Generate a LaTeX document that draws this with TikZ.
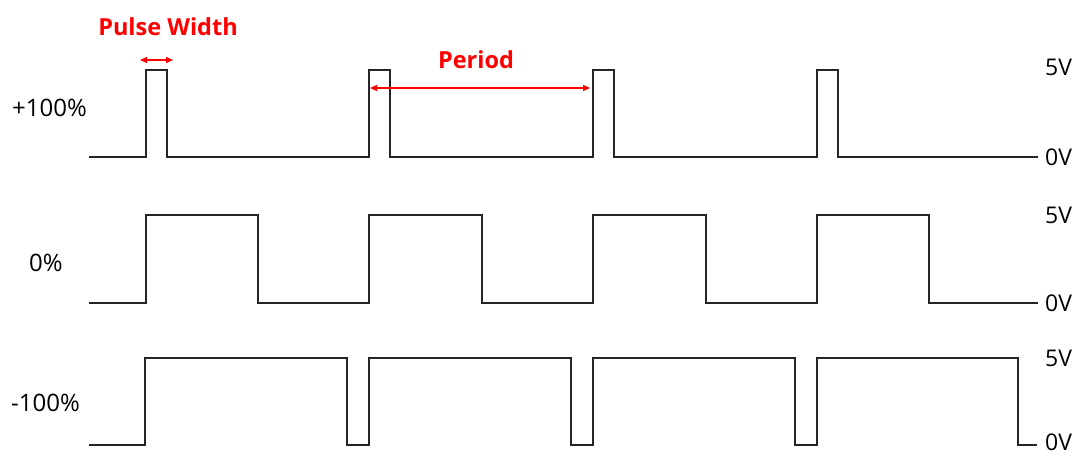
\documentclass[tikz,border=0pt]{standalone}
\usepackage{fontspec}
\setmainfont{Open Sans}
\usetikzlibrary{arrows.meta}

\tikzset{
    wave/.style={line width=2.4pt, black!85, line join=miter},
    level/.style={anchor=west, font=\fontsize{23}{26}\selectfont, inner sep=0pt},
    duty/.style={anchor=west, font=\fontsize{24}{27}\selectfont, inner sep=0pt},
    marker/.style={red, line width=1.3pt, {Triangle[length=7pt,width=6pt]}-{Triangle[length=7pt,width=6pt]}},
    redlabel/.style={red, font=\bfseries\fontsize{23.5}{27}\selectfont, inner sep=0pt}
}

\begin{document}
\begin{tikzpicture}[x=1pt, y=-1pt]
    \useasboundingbox (0,0) rectangle (1084,457);

    % Duty labels on the left
    \node[duty] (dplus) at (12,108) {+100\%};
    \node[duty] (dzero) at (29,263) {0\%};
    \node[duty] (dminus) at (11,403) {-100\%};

    % Voltage levels on the right
    \node[level] (hiA) at (1045,67) {5V};
    \node[level] (loA) at (1045,157) {0V};
    \node[level] (hiB) at (1045,215) {5V};
    \node[level] (loB) at (1045,303) {0V};
    \node[level] (hiC) at (1045,358) {5V};
    \node[level] (loC) at (1045,442) {0V};

    % Waveforms
    \draw[wave] (89,157) -| (146,70) -| (167,157) -| (369,70) -| (390,157)
        -| (593,70) -| (614,157) -| (817,70) -| (838,157) -- (1038,157);
    \draw[wave] (89,303) -| (146,215) -| (258,303) -| (369,215) -| (482,303)
        -| (593,215) -| (706,303) -| (817,215) -| (929,303) -- (1038,303);
    \draw[wave] (89,445) -| (145,358) -| (347,445) -| (369,358) -| (571,445)
        -| (593,358) -| (795,445) -| (817,358) -| (1018,445) -- (1037,445);

    % Pulse width and period markers
    \node[redlabel] (pw) at (168,27) {Pulse Width};
    \coordinate (pwL) at (140,60);
    \coordinate (pwR) at (173,60);
    \draw[marker] (pwL) -- (pwR);

    \node[redlabel] (per) at (476,60) {Period};
    \coordinate (perL) at (370,88);
    \coordinate (perR) at (590,88);
    \draw[marker] (perL) -- (perR);

\end{tikzpicture}
\end{document}
